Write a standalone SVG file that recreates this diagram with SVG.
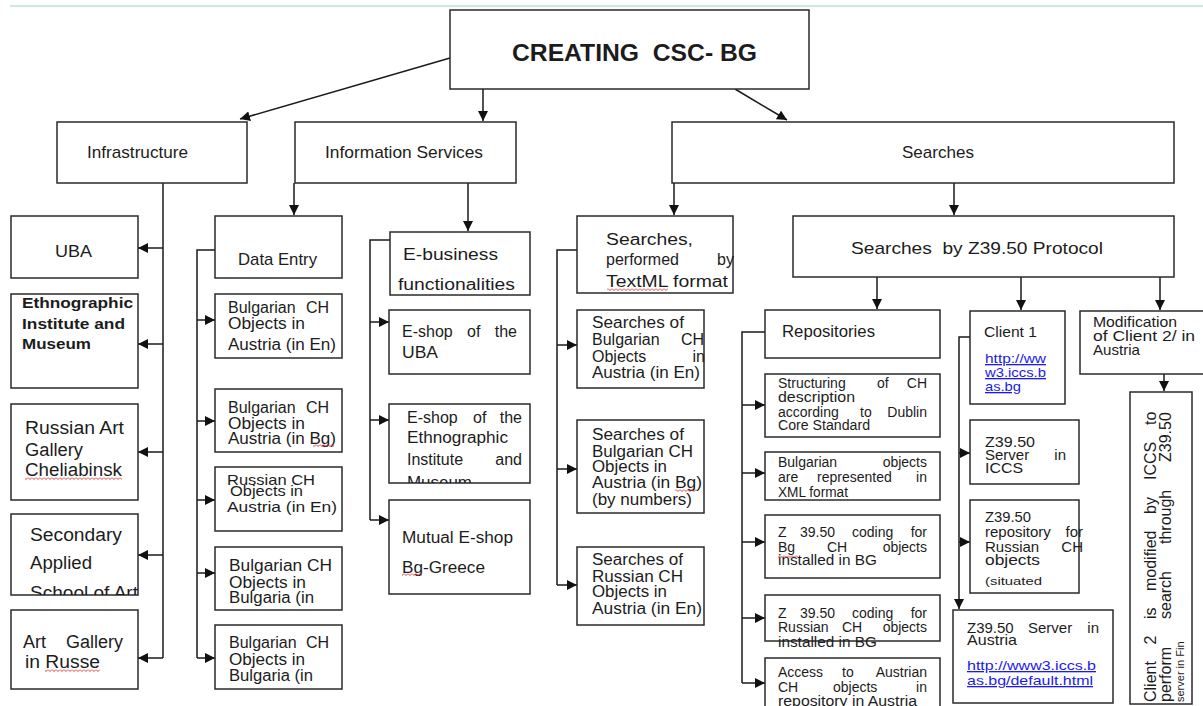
<svg xmlns="http://www.w3.org/2000/svg" width="1203" height="706" viewBox="0 0 1203 706">
<style>
  .box { fill: #fff; stroke: #2a2a2a; stroke-width: 1.5; }
  .t { font-family: "Liberation Sans", Arial, sans-serif; fill: #1c1c1c; }
  .conn path { stroke: #1a1a1a; stroke-width: 1.5; fill: none; }
  .link { fill: #1a1aee; text-decoration: underline; }
  .f18 { font-size: 18px; }
  .f17 { font-size: 17px; }
  .f16 { font-size: 16px; }
  .f15 { font-size: 15px; }
  .f14 { font-size: 14px; }
  .f13 { font-size: 13px; }
  .f11 { font-size: 11px; }
  .end { text-anchor: end; }
</style>
<defs>
  <marker id="ah" viewBox="0 0 10 10" refX="10" refY="5" markerWidth="10" markerHeight="10" markerUnits="userSpaceOnUse" orient="auto">
    <path d="M0,0 L10,5 L0,10 z" fill="#111"/>
  </marker>
  <pattern id="squiggle" width="4" height="3" patternUnits="userSpaceOnUse">
    <path d="M0 0.5 L2 2.5 L4 0.5" stroke="#e02828" stroke-width="0.9" fill="none"/>
  </pattern>
  <clipPath id="clipSchool"><rect x="11" y="514" width="127" height="81"/></clipPath>
  <clipPath id="clipMuseum"><rect x="389" y="404" width="141" height="79"/></clipPath>
  <clipPath id="clipStruct"><rect x="765" y="374" width="175" height="63"/></clipPath>
  <clipPath id="clipXml"><rect x="765" y="452" width="175" height="48"/></clipPath>
</defs>

<rect width="1203" height="706" fill="#fff"/>
<!-- thin rule along the top -->
<rect x="10" y="5" width="1193" height="2" fill="#cfe7e2"/>

<!-- connectors -->
<g id="connectors" class="conn">
  <path d="M450 58 L240 119" marker-end="url(#ah)"/>
  <path d="M483 89 V121" marker-end="url(#ah)"/>
  <path d="M735 89 L787 120" marker-end="url(#ah)"/>

  <path d="M163 183 V658"/>
  <path d="M163 248 H138" marker-end="url(#ah)"/>
  <path d="M163 344 H138" marker-end="url(#ah)"/>
  <path d="M163 452 H138" marker-end="url(#ah)"/>
  <path d="M163 555 H138" marker-end="url(#ah)"/>
  <path d="M163 658 H138" marker-end="url(#ah)"/>

  <path d="M294 183 V215" marker-end="url(#ah)"/>
  <path d="M215 250 H197 V658"/>
  <path d="M197 320 H215" marker-end="url(#ah)"/>
  <path d="M197 421 H215" marker-end="url(#ah)"/>
  <path d="M197 500 H215" marker-end="url(#ah)"/>
  <path d="M197 573 H215" marker-end="url(#ah)"/>
  <path d="M197 658 H215" marker-end="url(#ah)"/>

  <path d="M468 183 V231" marker-end="url(#ah)"/>
  <path d="M390 240 H370 V520"/>
  <path d="M370 322 H389" marker-end="url(#ah)"/>
  <path d="M370 420 H389" marker-end="url(#ah)"/>
  <path d="M370 520 H389" marker-end="url(#ah)"/>

  <path d="M674 183 V215" marker-end="url(#ah)"/>
  <path d="M954 183 V215" marker-end="url(#ah)"/>

  <path d="M577 250 H557 V585"/>
  <path d="M557 345 H577" marker-end="url(#ah)"/>
  <path d="M557 469 H577" marker-end="url(#ah)"/>
  <path d="M557 585 H577" marker-end="url(#ah)"/>

  <path d="M877 277 V309" marker-end="url(#ah)"/>
  <path d="M1021 277 V310" marker-end="url(#ah)"/>
  <path d="M1160 277 V310" marker-end="url(#ah)"/>

  <path d="M765 332 H742 V683"/>
  <path d="M742 405 H765" marker-end="url(#ah)"/>
  <path d="M742 473 H765" marker-end="url(#ah)"/>
  <path d="M742 542 H765" marker-end="url(#ah)"/>
  <path d="M742 618 H765" marker-end="url(#ah)"/>
  <path d="M742 683 H765" marker-end="url(#ah)"/>

  <path d="M970 337 H959 V609" marker-end="url(#ah)"/>
  <path d="M959 453 H970" marker-end="url(#ah)"/>
  <path d="M959 542 H970" marker-end="url(#ah)"/>

  <path d="M1164 374 V391" marker-end="url(#ah)"/>
</g>

<!-- top level -->
<g id="n-title">
  <rect class="box" x="450" y="10" width="359" height="79"/>
  <text class="t" x="512" y="61" font-size="24" font-weight="bold" textLength="245" lengthAdjust="spacingAndGlyphs" xml:space="preserve">CREATING  CSC- BG</text>
</g>
<g id="n-infrastructure">
  <rect class="box" x="57" y="122" width="190" height="61"/>
  <text class="t f17" x="87" y="158" textLength="101" lengthAdjust="spacingAndGlyphs">Infrastructure</text>
</g>
<g id="n-information">
  <rect class="box" x="295" y="122" width="221" height="61"/>
  <text class="t f17" x="325" y="158" textLength="158" lengthAdjust="spacingAndGlyphs">Information Services</text>
</g>
<g id="n-searches">
  <rect class="box" x="672" y="122" width="502" height="61"/>
  <text class="t f17" x="902" y="158" textLength="72" lengthAdjust="spacingAndGlyphs">Searches</text>
</g>

<!-- infrastructure column -->
<g id="n-uba">
  <rect class="box" x="11" y="216" width="127" height="62"/>
  <text class="t f17" x="55" y="257" textLength="37" lengthAdjust="spacingAndGlyphs">UBA</text>
</g>
<g id="n-ethno">
  <rect class="box" x="11" y="294" width="127" height="94"/>
  <text class="t f15" font-weight="bold" x="22" y="308" textLength="111" lengthAdjust="spacingAndGlyphs">Ethnographic</text>
  <text class="t f15" font-weight="bold" x="22" y="329" textLength="103" lengthAdjust="spacingAndGlyphs">Institute and</text>
  <text class="t f15" font-weight="bold" x="22" y="349" textLength="69" lengthAdjust="spacingAndGlyphs">Museum</text>
</g>
<g id="n-russian-gallery">
  <rect class="box" x="11" y="404" width="127" height="96"/>
  <text class="t f18" x="25" y="434" textLength="99" lengthAdjust="spacingAndGlyphs">Russian Art</text>
  <text class="t f18" x="25" y="456" textLength="58" lengthAdjust="spacingAndGlyphs">Gallery</text>
  <text class="t f18" x="25" y="476" textLength="97" lengthAdjust="spacingAndGlyphs">Cheliabinsk</text>
  <rect x="25" y="477" width="97" height="3" fill="url(#squiggle)"/>
</g>
<g id="n-school">
  <rect class="box" x="11" y="514" width="127" height="81"/>
  <text class="t f18" x="30" y="541" textLength="92" lengthAdjust="spacingAndGlyphs">Secondary</text>
  <text class="t f18" x="30" y="569" textLength="62" lengthAdjust="spacingAndGlyphs">Applied</text>
  <text class="t f18" x="30" y="599" textLength="108" lengthAdjust="spacingAndGlyphs" clip-path="url(#clipSchool)">School of Art</text>
</g>
<g id="n-russe">
  <rect class="box" x="11" y="610" width="127" height="79"/>
  <text class="t f18" y="648"><tspan x="23">Art</tspan><tspan x="123" class="end">Gallery</tspan></text>
  <text class="t f18" x="25" y="668" textLength="75" lengthAdjust="spacingAndGlyphs">in Russe</text>
  <rect x="45" y="669" width="55" height="3" fill="url(#squiggle)"/>
</g>

<!-- data entry column -->
<g id="n-data-entry">
  <rect class="box" x="215" y="216" width="127" height="62"/>
  <text class="t f17" x="238" y="265" textLength="79" lengthAdjust="spacingAndGlyphs">Data Entry</text>
</g>
<g id="n-de-1">
  <rect class="box" x="215" y="294" width="127" height="64"/>
  <text class="t f16" y="313"><tspan x="228">Bulgarian</tspan><tspan x="329" class="end">CH</tspan></text>
  <text class="t f16" x="228" y="329" textLength="77" lengthAdjust="spacingAndGlyphs">Objects in</text>
  <text class="t f16" x="228" y="350" textLength="108" lengthAdjust="spacingAndGlyphs">Austria (in En)</text>
</g>
<g id="n-de-2">
  <rect class="box" x="215" y="389" width="127" height="63"/>
  <text class="t f16" y="413"><tspan x="228">Bulgarian</tspan><tspan x="329" class="end">CH</tspan></text>
  <text class="t f16" x="228" y="429" textLength="77" lengthAdjust="spacingAndGlyphs">Objects in</text>
  <text class="t f16" x="228" y="444" textLength="108" lengthAdjust="spacingAndGlyphs">Austria (in Bg)</text>
  <rect x="313" y="444" width="21" height="3" fill="url(#squiggle)"/>
</g>
<g id="n-de-3">
  <rect class="box" x="215" y="467" width="127" height="64"/>
  <text class="t f15" x="227" y="485" textLength="88" lengthAdjust="spacingAndGlyphs">Russian CH</text>
  <text class="t f15" x="230" y="496" textLength="73" lengthAdjust="spacingAndGlyphs">Objects in</text>
  <text class="t f15" x="227" y="512" textLength="110" lengthAdjust="spacingAndGlyphs">Austria (in En)</text>
</g>
<g id="n-de-4">
  <rect class="box" x="215" y="547" width="127" height="63"/>
  <text class="t f16" x="229" y="571" textLength="103" lengthAdjust="spacingAndGlyphs">Bulgarian CH</text>
  <text class="t f16" x="229" y="588" textLength="77" lengthAdjust="spacingAndGlyphs">Objects in</text>
  <text class="t f16" x="229" y="603" textLength="85" lengthAdjust="spacingAndGlyphs">Bulgaria (in</text>
</g>
<g id="n-de-5">
  <rect class="box" x="215" y="625" width="127" height="64"/>
  <text class="t f16" y="648"><tspan x="229">Bulgarian</tspan><tspan x="329" class="end">CH</tspan></text>
  <text class="t f16" x="229" y="665" textLength="76" lengthAdjust="spacingAndGlyphs">Objects in</text>
  <text class="t f16" x="229" y="681" textLength="84" lengthAdjust="spacingAndGlyphs">Bulgaria (in</text>
</g>

<!-- e-business column -->
<g id="n-ebusiness">
  <rect class="box" x="390" y="232" width="140" height="63"/>
  <text class="t f16" x="403" y="260" textLength="95" lengthAdjust="spacingAndGlyphs">E-business</text>
  <text class="t f16" x="398" y="290" textLength="117" lengthAdjust="spacingAndGlyphs">functionalities</text>
</g>
<g id="n-eshop-uba">
  <rect class="box" x="389" y="310" width="141" height="64"/>
  <text class="t f16" y="337"><tspan x="402">E-shop</tspan><tspan x="467">of</tspan><tspan x="517" class="end">the</tspan></text>
  <text class="t f16" x="402" y="358" textLength="36" lengthAdjust="spacingAndGlyphs">UBA</text>
</g>
<g id="n-eshop-ethno">
  <rect class="box" x="389" y="404" width="141" height="79"/>
  <text class="t f16" y="423"><tspan x="407">E-shop</tspan><tspan x="473">of</tspan><tspan x="522" class="end">the</tspan></text>
  <text class="t f16" x="407" y="443" textLength="101" lengthAdjust="spacingAndGlyphs">Ethnographic</text>
  <text class="t f16" y="465"><tspan x="407">Institute</tspan><tspan x="522" class="end">and</tspan></text>
  <text class="t f16" x="407" y="488" textLength="65" lengthAdjust="spacingAndGlyphs" clip-path="url(#clipMuseum)">Museum</text>
</g>
<g id="n-mutual">
  <rect class="box" x="389" y="500" width="141" height="94"/>
  <text class="t f16" x="402" y="543" textLength="111" lengthAdjust="spacingAndGlyphs">Mutual E-shop</text>
  <text class="t f16" x="402" y="573" textLength="83" lengthAdjust="spacingAndGlyphs">Bg-Greece</text>
  <rect x="402" y="573" width="20" height="3" fill="url(#squiggle)"/>
</g>

<!-- TextML searches column -->
<g id="n-textml">
  <rect class="box" x="577" y="216" width="156" height="77"/>
  <text class="t f16" x="606" y="245" textLength="87" lengthAdjust="spacingAndGlyphs">Searches,</text>
  <text class="t f16" y="265"><tspan x="606">performed</tspan><tspan x="734" class="end">by</tspan></text>
  <text class="t f16" x="606" y="287" textLength="122" lengthAdjust="spacingAndGlyphs">TextML format</text>
  <rect x="607" y="288" width="61" height="3" fill="url(#squiggle)"/>
</g>
<g id="n-ts-1">
  <rect class="box" x="577" y="310" width="127" height="78"/>
  <text class="t f16" x="592" y="328" textLength="92" lengthAdjust="spacingAndGlyphs">Searches of</text>
  <text class="t f16" y="345"><tspan x="592">Bulgarian</tspan><tspan x="704" class="end">CH</tspan></text>
  <text class="t f16" y="362"><tspan x="592">Objects</tspan><tspan x="705" class="end">in</tspan></text>
  <text class="t f16" x="592" y="378" textLength="108" lengthAdjust="spacingAndGlyphs">Austria (in En)</text>
</g>
<g id="n-ts-2">
  <rect class="box" x="577" y="420" width="127" height="93"/>
  <text class="t f16" x="592" y="440" textLength="92" lengthAdjust="spacingAndGlyphs">Searches of</text>
  <text class="t f16" x="592" y="457" textLength="101" lengthAdjust="spacingAndGlyphs">Bulgarian CH</text>
  <text class="t f16" x="592" y="472" textLength="75" lengthAdjust="spacingAndGlyphs">Objects in</text>
  <text class="t f16" x="592" y="488" textLength="110" lengthAdjust="spacingAndGlyphs">Austria (in Bg)</text>
  <rect x="675" y="489" width="22" height="3" fill="url(#squiggle)"/>
  <text class="t f16" x="592" y="505" textLength="100" lengthAdjust="spacingAndGlyphs">(by numbers)</text>
</g>
<g id="n-ts-3">
  <rect class="box" x="577" y="547" width="127" height="78"/>
  <text class="t f16" x="592" y="565" textLength="91" lengthAdjust="spacingAndGlyphs">Searches of</text>
  <text class="t f16" x="592" y="582" textLength="91" lengthAdjust="spacingAndGlyphs">Russian CH</text>
  <text class="t f16" x="592" y="597" textLength="75" lengthAdjust="spacingAndGlyphs">Objects in</text>
  <text class="t f16" x="592" y="614" textLength="110" lengthAdjust="spacingAndGlyphs">Austria (in En)</text>
</g>

<!-- Z39.50 protocol branch -->
<g id="n-z3950">
  <rect class="box" x="793" y="216" width="381" height="61"/>
  <text class="t f17" x="851" y="254" textLength="252" lengthAdjust="spacingAndGlyphs" xml:space="preserve">Searches  by Z39.50 Protocol</text>
</g>
<g id="n-repositories">
  <rect class="box" x="765" y="310" width="175" height="48"/>
  <text class="t f16" x="782" y="337" textLength="93" lengthAdjust="spacingAndGlyphs">Repositories</text>
</g>
<g id="n-rep-1">
  <rect class="box" x="765" y="374" width="175" height="63"/>
  <text class="t f14" y="388" clip-path="url(#clipStruct)"><tspan x="778">Structuring</tspan><tspan x="877">of</tspan><tspan x="927" class="end">CH</tspan></text>
  <text class="t f14" x="778" y="402" textLength="77" lengthAdjust="spacingAndGlyphs">description</text>
  <text class="t f14" y="417"><tspan x="778">according</tspan><tspan x="860">to</tspan><tspan x="927" class="end">Dublin</tspan></text>
  <text class="t f14" x="778" y="430" textLength="92" lengthAdjust="spacingAndGlyphs">Core Standard</text>
</g>
<g id="n-rep-2">
  <rect class="box" x="765" y="452" width="175" height="48"/>
  <text class="t f14" y="467"><tspan x="778">Bulgarian</tspan><tspan x="927" class="end">objects</tspan></text>
  <text class="t f14" y="482"><tspan x="778">are</tspan><tspan x="817">represented</tspan><tspan x="927" class="end">in</tspan></text>
  <text class="t f14" x="778" y="497" textLength="70" lengthAdjust="spacingAndGlyphs" clip-path="url(#clipXml)">XML format</text>
</g>
<g id="n-rep-3">
  <rect class="box" x="765" y="515" width="175" height="63"/>
  <text class="t f14" y="537"><tspan x="778">Z</tspan><tspan x="800">39.50</tspan><tspan x="852">coding</tspan><tspan x="927" class="end">for</tspan></text>
  <text class="t f14" y="552"><tspan x="778">Bg</tspan><tspan x="827">CH</tspan><tspan x="927" class="end">objects</tspan></text>
  <rect x="778" y="555" width="20" height="3" fill="url(#squiggle)"/>
  <text class="t f14" x="778" y="565" textLength="99" lengthAdjust="spacingAndGlyphs">installed in BG</text>
</g>
<g id="n-rep-4">
  <rect class="box" x="765" y="595" width="175" height="46"/>
  <text class="t f14" y="618"><tspan x="778">Z</tspan><tspan x="800">39.50</tspan><tspan x="852">coding</tspan><tspan x="927" class="end">for</tspan></text>
  <text class="t f14" y="632"><tspan x="778">Russian</tspan><tspan x="842">CH</tspan><tspan x="927" class="end">objects</tspan></text>
  <text class="t f14" x="778" y="647" textLength="99" lengthAdjust="spacingAndGlyphs">installed in BG</text>
</g>
<g id="n-rep-5">
  <rect class="box" x="765" y="658" width="175" height="60"/>
  <text class="t f14" y="677"><tspan x="778">Access</tspan><tspan x="842">to</tspan><tspan x="927" class="end">Austrian</tspan></text>
  <text class="t f14" y="692"><tspan x="778">CH</tspan><tspan x="833">objects</tspan><tspan x="927" class="end">in</tspan></text>
  <text class="t f14" x="778" y="706" textLength="139" lengthAdjust="spacingAndGlyphs">repository in Austria</text>
</g>

<g id="n-client1">
  <rect class="box" x="970" y="311" width="95" height="93"/>
  <text class="t f15" x="984" y="337" textLength="53" lengthAdjust="spacingAndGlyphs">Client 1</text>
  <text class="t f13 link" x="985" y="363" textLength="61" lengthAdjust="spacingAndGlyphs">http://ww</text>
  <text class="t f13 link" x="985" y="377" textLength="61" lengthAdjust="spacingAndGlyphs">w3.iccs.b</text>
  <text class="t f13 link" x="985" y="391" textLength="36" lengthAdjust="spacingAndGlyphs">as.bg</text>
</g>
<g id="n-server-iccs">
  <rect class="box" x="970" y="420" width="109" height="64"/>
  <text class="t f15" x="985" y="447" textLength="50" lengthAdjust="spacingAndGlyphs">Z39.50</text>
  <text class="t f15" y="460"><tspan x="985">Server</tspan><tspan x="1066" class="end">in</tspan></text>
  <text class="t f15" x="985" y="473" textLength="38" lengthAdjust="spacingAndGlyphs">ICCS</text>
</g>
<g id="n-repo-russian">
  <rect class="box" x="970" y="500" width="109" height="93"/>
  <text class="t f15" x="985" y="522" textLength="46" lengthAdjust="spacingAndGlyphs">Z39.50</text>
  <text class="t f15" y="537"><tspan x="985">repository</tspan><tspan x="1083" class="end">for</tspan></text>
  <text class="t f15" y="552"><tspan x="985">Russian</tspan><tspan x="1083" class="end">CH</tspan></text>
  <text class="t f15" x="985" y="565" textLength="55" lengthAdjust="spacingAndGlyphs">objects</text>
  <text class="t f11" x="985" y="585" textLength="57" lengthAdjust="spacingAndGlyphs">(situated</text>
</g>
<g id="n-server-austria">
  <rect class="box" x="953" y="610" width="160" height="93"/>
  <text class="t f15" y="633"><tspan x="967">Z39.50</tspan><tspan x="1028">Server</tspan><tspan x="1099" class="end">in</tspan></text>
  <text class="t f15" x="967" y="645" textLength="50" lengthAdjust="spacingAndGlyphs">Austria</text>
  <text class="t f13 link" x="967" y="670" textLength="129" lengthAdjust="spacingAndGlyphs">http://www3.iccs.b</text>
  <text class="t f13 link" x="967" y="685" textLength="126" lengthAdjust="spacingAndGlyphs">as.bg/default.html</text>
</g>

<g id="n-modification">
  <rect class="box" x="1080" y="311" width="130" height="63"/>
  <text class="t f15" x="1093" y="327" textLength="84" lengthAdjust="spacingAndGlyphs">Modification</text>
  <text class="t f15" x="1093" y="341" textLength="102" lengthAdjust="spacingAndGlyphs">of Client 2/ in</text>
  <text class="t f15" x="1093" y="355" textLength="47" lengthAdjust="spacingAndGlyphs">Austria</text>
</g>
<g id="n-client2">
  <rect class="box" x="1130" y="392" width="62" height="312"/>
  <text class="t f16" transform="translate(1156 702) rotate(-90)"><tspan x="0">Client</tspan><tspan x="57.5">2</tspan><tspan x="83">is</tspan><tspan x="111">modified</tspan><tspan x="188">by</tspan><tspan x="222">ICCS</tspan><tspan x="277">to</tspan></text>
  <text class="t f16" transform="translate(1171 702) rotate(-90)"><tspan x="0">perform</tspan><tspan x="83">search</tspan><tspan x="158">through</tspan><tspan x="240">Z39.50</tspan></text>
  <text class="t f11" transform="translate(1184 702) rotate(-90)">server in Fin</text>
</g>
</svg>
